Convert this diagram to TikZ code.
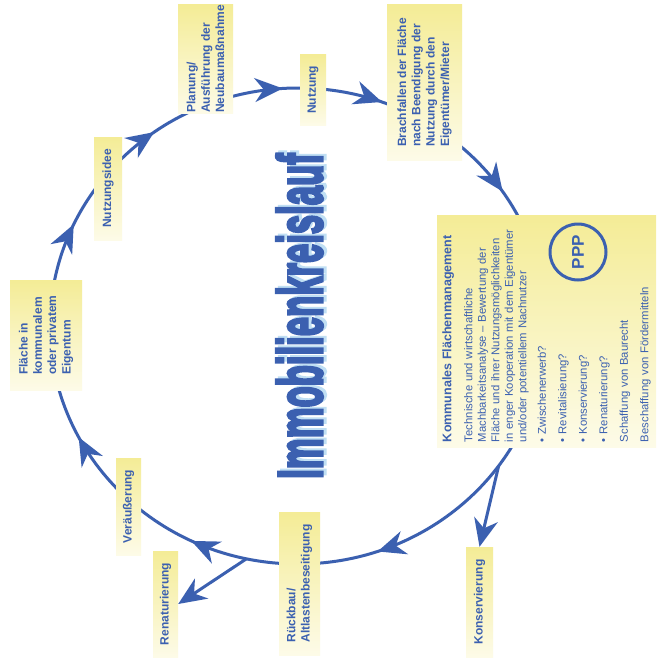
\documentclass[tikz,border=0pt]{standalone}
\usepackage{fontspec}
\setmainfont{Liberation Sans}
\newfontfamily\titlefont{Liberation Sans}[FakeBold=5]
\usepackage{xcolor}
\usepackage{graphicx}
\usepackage{tikz}
\usetikzlibrary{arrows.meta}
\usetikzlibrary{decorations.markings}

\definecolor{kblue}{RGB}{59,96,176}
\definecolor{kyell}{RGB}{244,236,150}
\definecolor{kcream}{RGB}{253,251,232}
\definecolor{kshade}{RGB}{192,223,244}

\begin{document}
\begin{tikzpicture}[x=1pt, y=1pt,
  ktip/.tip={Stealth[length=28pt, width=24pt, inset=9pt]},
  box/.style={rotate=90, inner sep=0pt, top color=kyell, bottom color=kcream, text=kblue, align=left, font=\bfseries\fontsize{12}{14.3}\selectfont},
  ring/.style={draw=kblue, line width=3pt},
  line/.style={draw=kblue, line width=3pt, -ktip},
  title/.style={rotate=90, anchor=base, font=\titlefont\bfseries\fontsize{63}{63}\selectfont}]
\useasboundingbox (0,0) rectangle (656,-661);
\fill[white] (0,0) rectangle (656,-661);
\coordinate (ctr) at (298,-326);
\draw[ring, postaction={decorate}, decoration={markings,
    mark=at position 0.197 with {\arrow{ktip}},
    mark=at position 0.322 with {\arrow{ktip}},
    mark=at position 0.424 with {\arrow{ktip}},
    mark=at position 0.569 with {\arrow{ktip}},
    mark=at position 0.650 with {\arrow{ktip}},
    mark=at position 0.740 with {\arrow{ktip}},
    mark=at position 0.806 with {\arrow{ktip}},
    mark=at position 0.906 with {\arrow{ktip}}}]
  (546,-326) arc[start angle=0, end angle=-360, x radius=248, y radius=238];
\coordinate (kbranch) at ([shift={(-36:248 and 238)}]ctr);
\coordinate (rbranch) at ([shift={(-102:248 and 238)}]ctr);

\node[box, minimum width=108, minimum height=55] (plan) at (205.5,-59) {Planung/\\Ausführung der\\Neubaumaßnahme};
\node[box, minimum width=70, minimum height=26] (nutz) at (313,-90) {Nutzung};
\node[box, minimum width=155, minimum height=75] (brach) at (424.5,-82.5) {Brachfallen der Fläche\\nach Beendigung der\\Nutzung durch den\\Eigentümer/Mieter};
\node[box, minimum width=232, minimum height=219, text width=222, font=\fontsize{11.3}{13.5}\selectfont] (komm) at (546.5,-331) {%
  {\bfseries\fontsize{12.5}{14}\selectfont Kommunales Flächenmanagement}\\[7.5pt]
  Technische und wirtschaftliche\\
  Machbarkeitsanalyse – Bewertung der\\
  Fläche und ihrer Nutzungsmöglichkeiten\\
  in enger Kooperation mit dem Eigentümer\\
  und/oder potentiellem Nachnutzer\\[6pt]
  • Zwischenerwerb?\\[7pt]
  • Revitalisierung?\\[7pt]
  • Konservierung?\\[7pt]
  • Renaturierung?\\[7pt]
  Schaffung von Baurecht\\[7pt]
  Beschaffung von Fördermitteln};
\node[circle, draw=kblue, line width=3pt, minimum size=56, inner sep=0pt, rotate=90, text=kblue, font=\bfseries\fontsize{17}{17}\selectfont] (ppp) at (578,-252) {PPP};
\node[box, minimum width=110, minimum height=27] (kons) at (479.5,-602) {Konservierung};
\node[box, minimum width=143, minimum height=41] (rueck) at (299.5,-583.5) {Rückbau/\\Altlastenbeseitigung};
\node[box, minimum width=106, minimum height=25] (renat) at (165.5,-604) {Renaturierung};
\node[box, minimum width=97, minimum height=25] (veraeu) at (128.5,-506.5) {Veräußerung};
\node[box, minimum width=110, minimum height=72] (flaeche) at (46,-335) {Fläche in\\kommunalem\\oder privatem\\Eigentum};
\node[box, minimum width=103, minimum height=28] (idee) at (108,-188.5) {Nutzungsidee};

\path[line] (kbranch) -- (kons.east);
\path[line] (rbranch) -- (renat.south);

\node[title, text=kshade] (titleshadow) at (325,-314) {\scalebox{0.55}[1]{Immobilienkreislauf}};
\node[title, text=kblue] (title) at (322,-316) {\scalebox{0.55}[1]{Immobilienkreislauf}};
\end{tikzpicture}
\end{document}
